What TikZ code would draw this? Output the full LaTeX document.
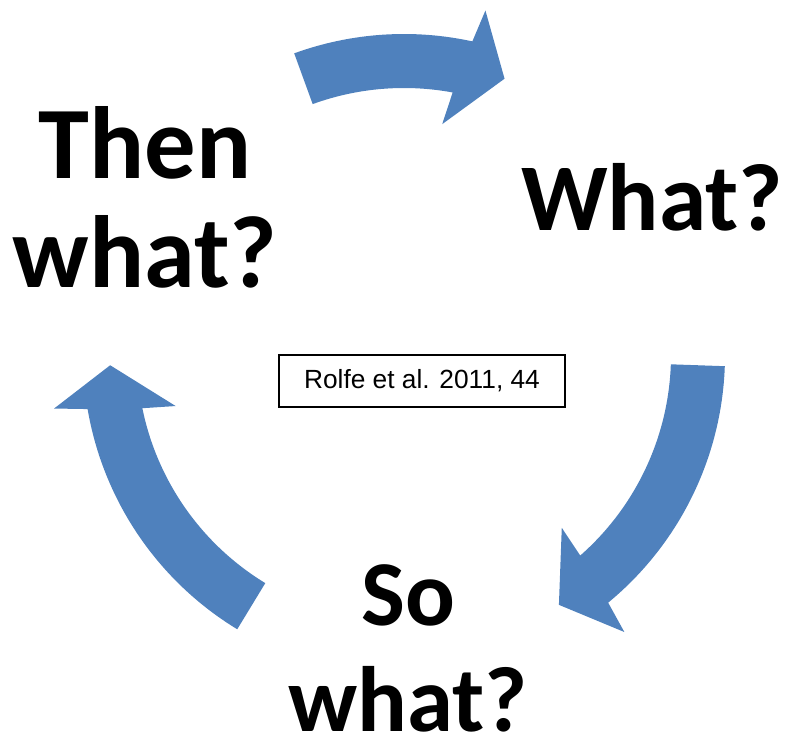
\documentclass[tikz,border=0pt]{standalone}
\usepackage{fontspec}
\setmainfont{Carlito}
\newfontfamily\notefont{Liberation Sans}
\definecolor{arrowblue}{HTML}{4F81BD}

\begin{document}
\begin{tikzpicture}[x=0.025cm,y=0.025cm]
		\tikzset{cycle arrow/.style={fill=arrowblue},
			step label/.style 2 args={font=\fontsize{#1}{#2}\selectfont\bfseries,align=center,inner sep=0pt,anchor=base},
			source box/.style={draw,line width=1.4pt,minimum width=7.15cm,minimum height=1.3cm,font=\notefont\fontsize{18.7}{22}\selectfont}}
		\useasboundingbox (-404,-392) rectangle (401,355);
		
		% arrows of the cycle, centre at (0,0)
		\fill[cycle arrow] (110:321) arc[start angle=110,end angle=77.7,radius=321] -- (76.7:354) -- (70:294) -- (80.6:234) -- (79.5:267) arc[start angle=79.5,end angle=110,radius=267] -- cycle;
		\fill[cycle arrow] (-2:321) arc[start angle=-2,end angle=-50.5,radius=321] -- (-51.5:354) -- (-58.2:294) -- (-47.6:234) -- (-48.7:267) arc[start angle=-48.7,end angle=-2,radius=267] -- cycle;
		\fill[cycle arrow] (238.7:321) arc[start angle=238.7,end angle=189.7,radius=321] -- (188.7:354) -- (182:294) -- (192.6:234) -- (191.5:267) arc[start angle=191.5,end angle=238.7,radius=267] -- cycle;
		
		% labels (base = last line)
		\node[step label={68}{75}] (what) at (248,124) {What?};
		\node[step label={66}{75.4}] (sowhat) at (4,-377) {So\\what?};
		\node[step label={73}{78.2}] (thenwhat) at (-259,67) {Then\\what?};
		\node[source box] (source) at (18,-26) {Rolfe et al. 2011, 44};
\end{tikzpicture}
\end{document}
